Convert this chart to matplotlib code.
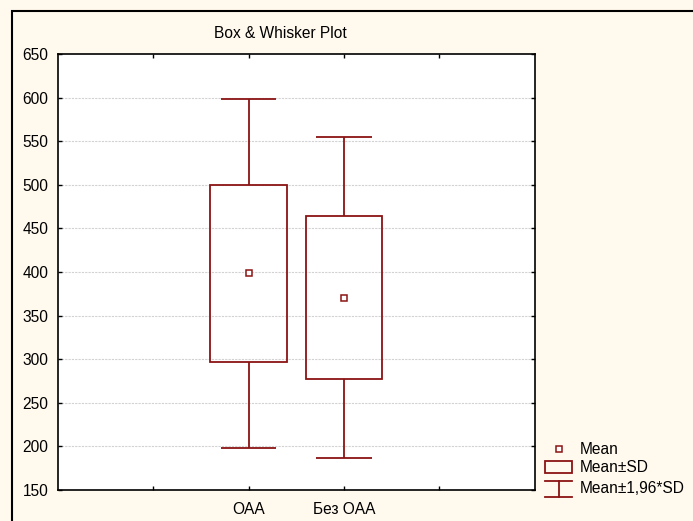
import matplotlib.pyplot as plt
from matplotlib.patches import Rectangle
import numpy as np

plt.rcParams['font.family'] = ['Liberation Sans', 'DejaVu Sans']

categories = ['OAA', 'Без OAA']
positions = [2, 3]
means = [398.5, 370.5]
box_low = [297.2, 277.0]      # Mean - SD
box_high = [499.6, 463.8]     # Mean + SD
whisk_low = [198.5, 186.3]    # Mean - 1,96*SD
whisk_high = [598.5, 554.5]   # Mean + 1,96*SD

red = '#8b1414'
bg = '#fff9ee'
fs = 11.2

fig = plt.figure(figsize=(6.93, 5.21), dpi=100, facecolor=bg)
fig.patches.append(Rectangle((12 / 693, -0.1), 1.2, 1.1 - 11 / 521, transform=fig.transFigure,
                             fill=False, edgecolor='black', lw=1.5))

ax = fig.add_axes([58 / 693, 1 - 490 / 521, (534.5 - 58) / 693, (490 - 54) / 521])
ax.set_facecolor('white')

p = np.array(positions)
bl, bh = np.array(box_low), np.array(box_high)
wl, wh = np.array(whisk_low), np.array(whisk_high)
ax.bar(positions, bh - bl, bottom=bl, width=0.8, fill=False, edgecolor=red, lw=1.3, zorder=3)
ax.vlines(positions, bh, wh, color=red, lw=1.3, zorder=3)
ax.vlines(positions, wl, bl, color=red, lw=1.3, zorder=3)
ax.hlines(wh, p - 0.29, p + 0.29, color=red, lw=1.3, zorder=3)
ax.hlines(wl, p - 0.29, p + 0.29, color=red, lw=1.3, zorder=3)
ax.plot(positions, means, 's', ms=5, mfc='white', mec=red, mew=1.1, zorder=4)

ax.set_xlim(0, 5)
ax.set_ylim(150, 650)
ax.set_yticks(np.arange(150, 651, 50))
ax.set_xticks([1, 2, 3, 4])
ax.set_xticklabels(['', categories[0], categories[1], ''])
ax.tick_params(direction='in', length=3, width=1, top=True, right=True, labelsize=fs)
ax.tick_params(axis='x', pad=9)
ax.tick_params(axis='y', pad=7)
for sp in ax.spines.values():
    sp.set_linewidth(1.2)
for yv in np.arange(200, 601, 50):
    ax.axhline(yv, color='#d2d2d2', lw=0.8, ls=(0, (2, 1)), zorder=1)

fig.text(280 / 693, 1 - 34 / 521, 'Box & Whisker Plot', ha='center', va='center', fontsize=fs)

# legend
lg = fig.add_axes([540 / 693, 1 - 505 / 521, 153 / 693, 65 / 521])
lg.set_xlim(540, 693)
lg.set_ylim(505, 440)
lg.axis('off')
lg.plot([559], [449], 's', ms=5, mfc='white', mec=red, mew=1.1)
lg.add_patch(Rectangle((545, 461), 27, 12, fill=False, edgecolor=red, lw=1.3))
lg.plot([545, 572], [481, 481], color=red, lw=1.3)
lg.plot([545, 572], [497, 497], color=red, lw=1.3)
lg.plot([559, 559], [481, 497], color=red, lw=1.3)
for ty, lab in zip([449, 467, 488], ['Mean', 'Mean±SD', 'Mean±1,96*SD']):
    lg.text(580, ty, lab, va='center', ha='left', fontsize=fs)

fig.savefig('out.png', dpi=100, facecolor=bg)
